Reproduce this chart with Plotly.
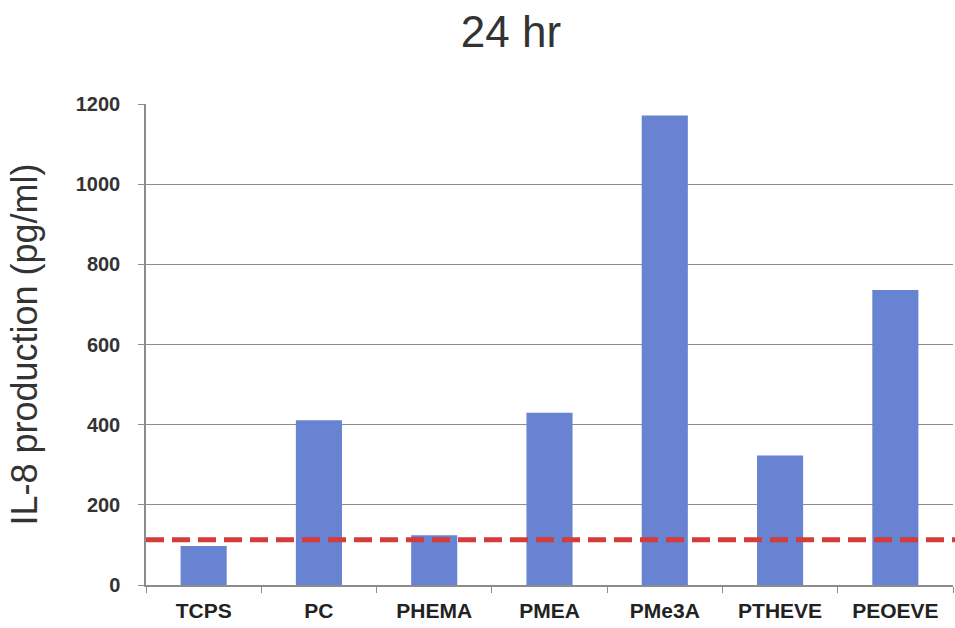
import plotly.graph_objects as go

categories = ["TCPS", "PC", "PHEMA", "PMEA", "PMe3A", "PTHEVE", "PEOEVE"]
il8_values = [97, 411, 124, 430, 1171, 323, 736]
control_level = 113
y_ticks = [0, 200, 400, 600, 800, 1000, 1200]

FONT = "Liberation Sans, Arial, sans-serif"

fig = go.Figure()
fig.add_trace(go.Bar(
    x=categories,
    y=il8_values,
    marker=dict(color="#6983d3", line=dict(width=0)),
    showlegend=False,
))

fig.add_shape(
    type="line", xref="paper", x0=0, x1=1.003, yref="y",
    y0=control_level, y1=control_level,
    line=dict(color="#d43c3a", width=5, dash="18px,8px"),
)

fig.update_layout(
    width=955, height=628,
    margin=dict(l=146, r=2, t=104, b=43),
    paper_bgcolor="white", plot_bgcolor="white",
    bargap=0.6,
    title=dict(
        text="24 hr", x=0.535, xanchor="center",
        yref="container", y=0.95, yanchor="middle",
        font=dict(family=FONT, size=44, color="#333333"),
    ),
    xaxis=dict(
        showline=True, linecolor="#8c8c8c", linewidth=1.5,
        ticks="outside", tickson="boundaries", ticklen=6, tickcolor="#8c8c8c",
        ticklabelstandoff=6,
        tickfont=dict(family=FONT, size=21, color="#222222", weight="bold"),
        showgrid=False,
    ),
    yaxis=dict(
        range=[0, 1200], tickvals=y_ticks,
        showline=True, linecolor="#8c8c8c", linewidth=1.5,
        ticks="outside", ticklen=6, tickcolor="#8c8c8c",
        ticklabelstandoff=14,
        tickfont=dict(family=FONT, size=20, color="#333333", weight="bold"),
        showgrid=True, gridcolor="#8c8c8c", gridwidth=1.2,
        zeroline=False,
        title=dict(text="IL-8 production (pg/ml)", standoff=27,
                   font=dict(family=FONT, size=36, color="#333333")),
    ),
)

fig.write_html("out.html")
